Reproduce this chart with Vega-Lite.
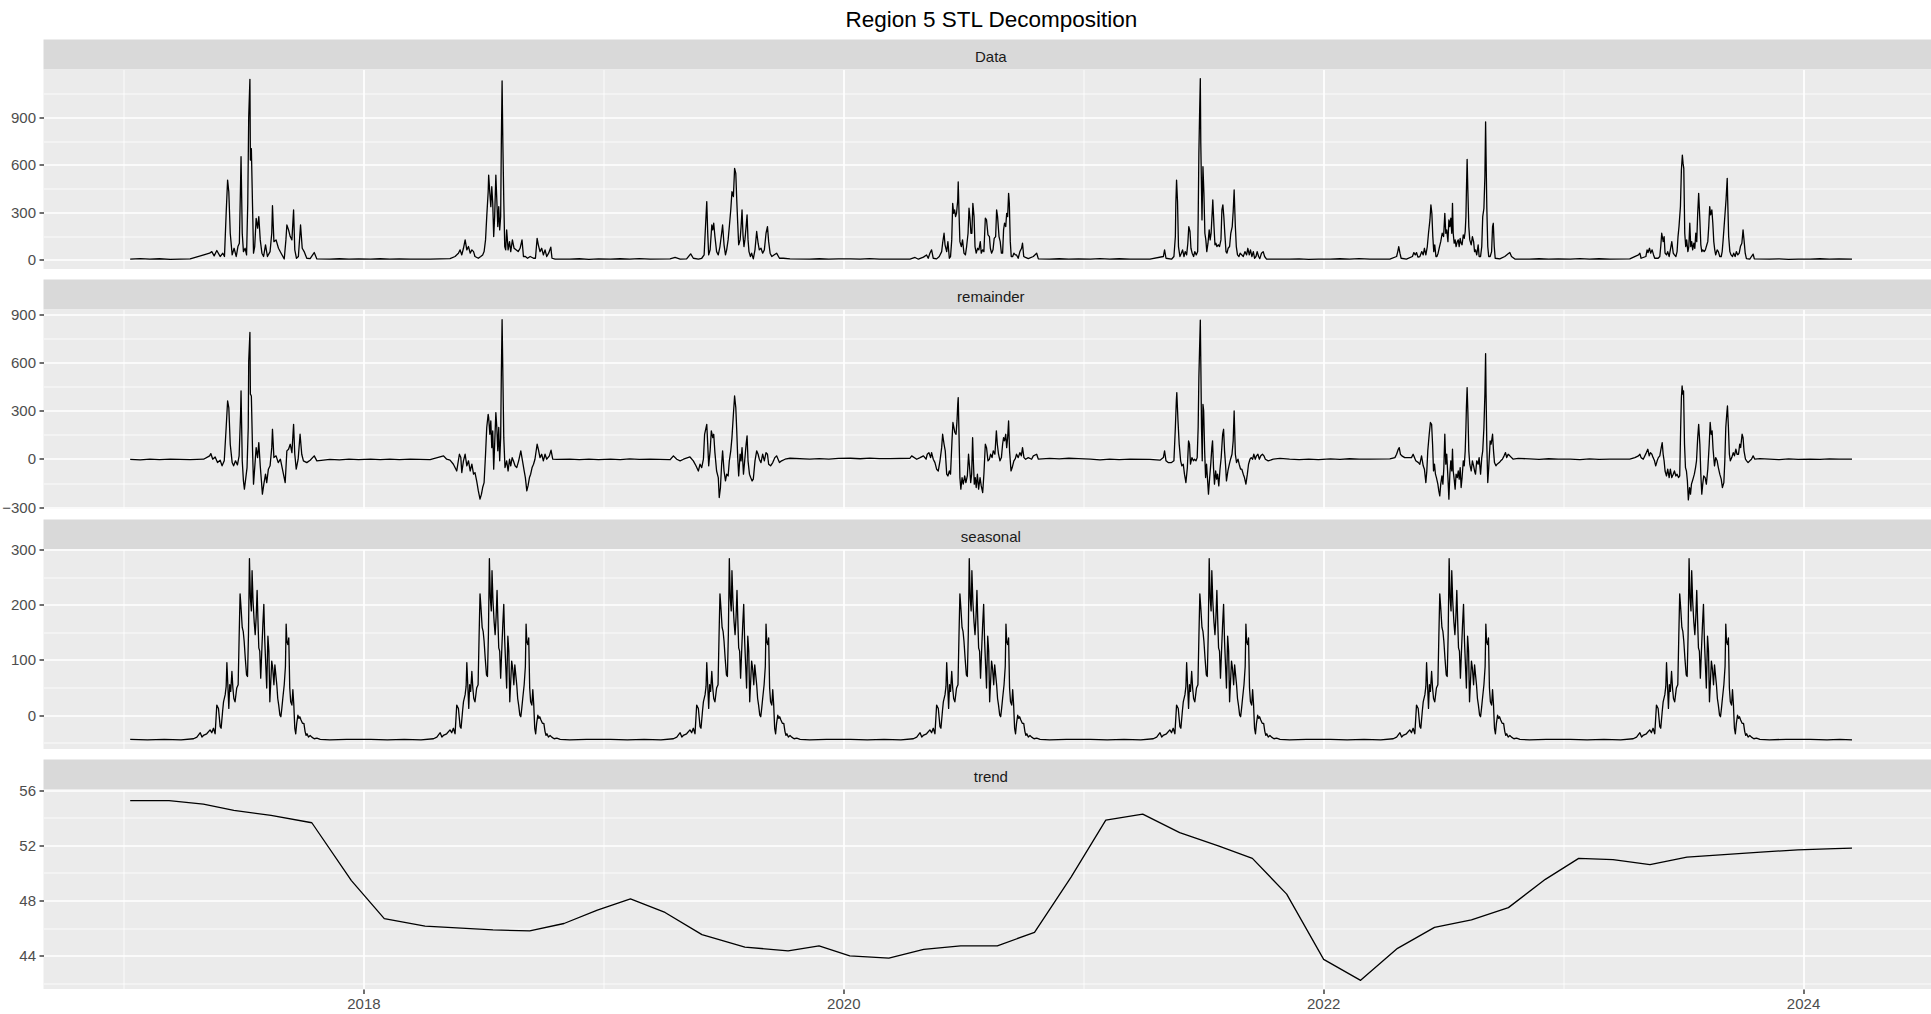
{
"$schema":"https://vega.github.io/schema/vega-lite/v6.json",
"background":"white",
"autosize":{"type":"pad"},
"padding":{"left":1.5,"top":8.5,"right":0,"bottom":4},
"title":{"text":"Region 5 STL Decomposition","anchor":"middle","font":"Liberation Sans","fontSize":22.5,"fontWeight":"normal","color":"#000000","offset":8.5,"dx":25},
"config":{"view":{"stroke":null},
"axis":{"domain":false,"title":null,"labelFont":"Liberation Sans","labelFontSize":15,"labelColor":"#4D4D4D","tickColor":"#333333","tickSize":4.5,"tickWidth":1.4,"gridColor":"#FFFFFF","labelPadding":3.5,"labelFlush":false,"labelOverlap":false,"labelBound":false}},
"datasets":{
"d":[
{"x":2017.028,"v":5},{"x":2017.07,"v":8},{"x":2017.11,"v":4},{"x":2017.15,"v":7},{"x":2017.195,"v":3},{"x":2017.278,"v":6},{"x":2017.359,"v":42},{"x":2017.368,"v":52},{"x":2017.378,"v":25},{"x":2017.389,"v":59},{"x":2017.403,"v":21},{"x":2017.414,"v":42},{"x":2017.421,"v":21},{"x":2017.428,"v":294},{"x":2017.434,"v":504},{"x":2017.439,"v":430},{"x":2017.445,"v":168},{"x":2017.453,"v":31},{"x":2017.461,"v":73},{"x":2017.47,"v":21},{"x":2017.477,"v":84},{"x":2017.483,"v":105},{"x":2017.488,"v":483},{"x":2017.49,"v":651},{"x":2017.495,"v":168},{"x":2017.5,"v":52},{"x":2017.507,"v":73},{"x":2017.513,"v":31},{"x":2017.518,"v":357},{"x":2017.522,"v":903},{"x":2017.527,"v":1140},{"x":2017.529,"v":630},{"x":2017.533,"v":703},{"x":2017.538,"v":336},{"x":2017.542,"v":42},{"x":2017.547,"v":84},{"x":2017.553,"v":262},{"x":2017.559,"v":200},{"x":2017.564,"v":273},{"x":2017.57,"v":126},{"x":2017.577,"v":42},{"x":2017.584,"v":21},{"x":2017.592,"v":95},{"x":2017.6,"v":21},{"x":2017.611,"v":52},{"x":2017.618,"v":168},{"x":2017.621,"v":342},{"x":2017.627,"v":115},{"x":2017.636,"v":126},{"x":2017.646,"v":73},{"x":2017.657,"v":42},{"x":2017.67,"v":5},{"x":2017.677,"v":126},{"x":2017.681,"v":220},{"x":2017.688,"v":189},{"x":2017.695,"v":147},{"x":2017.702,"v":126},{"x":2017.709,"v":315},{"x":2017.714,"v":63},{"x":2017.721,"v":10},{"x":2017.729,"v":21},{"x":2017.738,"v":220},{"x":2017.745,"v":73},{"x":2017.753,"v":52},{"x":2017.764,"v":10},{"x":2017.778,"v":8},{"x":2017.795,"v":46},{"x":2017.806,"v":6},{"x":2017.86,"v":5},{"x":2017.9,"v":7},{"x":2017.94,"v":4},{"x":2017.98,"v":6},
{"x":2018.03,"v":5},{"x":2018.07,"v":7},{"x":2018.11,"v":4},{"x":2018.15,"v":6},{"x":2018.195,"v":4},{"x":2018.278,"v":5},{"x":2018.361,"v":8},{"x":2018.382,"v":21},{"x":2018.396,"v":42},{"x":2018.403,"v":63},{"x":2018.41,"v":31},{"x":2018.417,"v":73},{"x":2018.424,"v":126},{"x":2018.431,"v":63},{"x":2018.438,"v":84},{"x":2018.445,"v":42},{"x":2018.452,"v":63},{"x":2018.459,"v":52},{"x":2018.465,"v":21},{"x":2018.479,"v":10},{"x":2018.489,"v":21},{"x":2018.497,"v":31},{"x":2018.503,"v":52},{"x":2018.509,"v":126},{"x":2018.514,"v":273},{"x":2018.52,"v":430},{"x":2018.522,"v":535},{"x":2018.527,"v":420},{"x":2018.531,"v":336},{"x":2018.535,"v":462},{"x":2018.539,"v":357},{"x":2018.543,"v":147},{"x":2018.547,"v":273},{"x":2018.552,"v":535},{"x":2018.556,"v":378},{"x":2018.56,"v":210},{"x":2018.564,"v":336},{"x":2018.568,"v":189},{"x":2018.572,"v":273},{"x":2018.575,"v":767},{"x":2018.578,"v":1130},{"x":2018.581,"v":756},{"x":2018.585,"v":378},{"x":2018.589,"v":84},{"x":2018.593,"v":63},{"x":2018.597,"v":189},{"x":2018.603,"v":63},{"x":2018.609,"v":115},{"x":2018.614,"v":52},{"x":2018.621,"v":126},{"x":2018.628,"v":73},{"x":2018.636,"v":63},{"x":2018.645,"v":52},{"x":2018.653,"v":73},{"x":2018.661,"v":126},{"x":2018.667,"v":21},{"x":2018.675,"v":21},{"x":2018.684,"v":10},{"x":2018.695,"v":21},{"x":2018.709,"v":10},{"x":2018.717,"v":10},{"x":2018.724,"v":136},{"x":2018.729,"v":95},{"x":2018.736,"v":52},{"x":2018.743,"v":73},{"x":2018.75,"v":31},{"x":2018.757,"v":63},{"x":2018.764,"v":21},{"x":2018.772,"v":42},{"x":2018.781,"v":80},{"x":2018.786,"v":10},{"x":2018.799,"v":4},{"x":2018.86,"v":5},{"x":2018.9,"v":7},{"x":2018.94,"v":3},{"x":2018.98,"v":6},
{"x":2019.03,"v":4},{"x":2019.07,"v":7},{"x":2019.11,"v":5},{"x":2019.15,"v":8},{"x":2019.195,"v":4},{"x":2019.278,"v":6},{"x":2019.299,"v":15},{"x":2019.32,"v":5},{"x":2019.347,"v":6},{"x":2019.364,"v":38},{"x":2019.375,"v":10},{"x":2019.396,"v":4},{"x":2019.41,"v":10},{"x":2019.42,"v":31},{"x":2019.425,"v":189},{"x":2019.431,"v":368},{"x":2019.435,"v":168},{"x":2019.439,"v":31},{"x":2019.445,"v":63},{"x":2019.452,"v":220},{"x":2019.456,"v":189},{"x":2019.46,"v":231},{"x":2019.465,"v":147},{"x":2019.472,"v":52},{"x":2019.479,"v":31},{"x":2019.486,"v":84},{"x":2019.493,"v":168},{"x":2019.497,"v":220},{"x":2019.503,"v":95},{"x":2019.509,"v":31},{"x":2019.514,"v":63},{"x":2019.52,"v":126},{"x":2019.525,"v":210},{"x":2019.531,"v":315},{"x":2019.536,"v":430},{"x":2019.542,"v":399},{"x":2019.547,"v":578},{"x":2019.552,"v":546},{"x":2019.556,"v":378},{"x":2019.56,"v":231},{"x":2019.564,"v":95},{"x":2019.57,"v":126},{"x":2019.574,"v":210},{"x":2019.578,"v":315},{"x":2019.582,"v":158},{"x":2019.586,"v":84},{"x":2019.59,"v":126},{"x":2019.595,"v":210},{"x":2019.599,"v":284},{"x":2019.603,"v":126},{"x":2019.607,"v":52},{"x":2019.613,"v":21},{"x":2019.618,"v":42},{"x":2019.625,"v":6},{"x":2019.632,"v":63},{"x":2019.639,"v":179},{"x":2019.645,"v":105},{"x":2019.65,"v":63},{"x":2019.657,"v":73},{"x":2019.664,"v":42},{"x":2019.671,"v":63},{"x":2019.678,"v":168},{"x":2019.684,"v":210},{"x":2019.689,"v":115},{"x":2019.695,"v":42},{"x":2019.702,"v":21},{"x":2019.711,"v":31},{"x":2019.722,"v":42},{"x":2019.734,"v":10},{"x":2019.75,"v":10},{"x":2019.778,"v":6},{"x":2019.86,"v":4},{"x":2019.9,"v":7},{"x":2019.94,"v":5},{"x":2019.98,"v":6},
{"x":2020.03,"v":6},{"x":2020.07,"v":4},{"x":2020.11,"v":8},{"x":2020.15,"v":5},{"x":2020.195,"v":4},{"x":2020.278,"v":5},{"x":2020.299,"v":15},{"x":2020.313,"v":4},{"x":2020.334,"v":17},{"x":2020.347,"v":31},{"x":2020.354,"v":10},{"x":2020.361,"v":42},{"x":2020.368,"v":63},{"x":2020.375,"v":10},{"x":2020.389,"v":6},{"x":2020.4,"v":21},{"x":2020.41,"v":52},{"x":2020.414,"v":105},{"x":2020.42,"v":168},{"x":2020.424,"v":95},{"x":2020.431,"v":52},{"x":2020.436,"v":115},{"x":2020.442,"v":10},{"x":2020.447,"v":21},{"x":2020.452,"v":126},{"x":2020.456,"v":357},{"x":2020.46,"v":294},{"x":2020.464,"v":315},{"x":2020.468,"v":273},{"x":2020.472,"v":294},{"x":2020.477,"v":378},{"x":2020.479,"v":493},{"x":2020.482,"v":315},{"x":2020.486,"v":115},{"x":2020.492,"v":84},{"x":2020.497,"v":126},{"x":2020.503,"v":42},{"x":2020.509,"v":31},{"x":2020.514,"v":84},{"x":2020.52,"v":168},{"x":2020.524,"v":326},{"x":2020.528,"v":263},{"x":2020.532,"v":168},{"x":2020.536,"v":168},{"x":2020.54,"v":357},{"x":2020.545,"v":273},{"x":2020.549,"v":84},{"x":2020.554,"v":42},{"x":2020.56,"v":73},{"x":2020.565,"v":63},{"x":2020.571,"v":115},{"x":2020.575,"v":42},{"x":2020.581,"v":63},{"x":2020.586,"v":52},{"x":2020.592,"v":263},{"x":2020.597,"v":252},{"x":2020.603,"v":158},{"x":2020.609,"v":147},{"x":2020.613,"v":73},{"x":2020.618,"v":42},{"x":2020.624,"v":63},{"x":2020.629,"v":136},{"x":2020.635,"v":147},{"x":2020.639,"v":315},{"x":2020.643,"v":273},{"x":2020.649,"v":147},{"x":2020.654,"v":115},{"x":2020.659,"v":42},{"x":2020.664,"v":42},{"x":2020.668,"v":189},{"x":2020.672,"v":231},{"x":2020.677,"v":210},{"x":2020.681,"v":294},{"x":2020.685,"v":273},{"x":2020.689,"v":420},{"x":2020.692,"v":357},{"x":2020.696,"v":115},{"x":2020.7,"v":21},{"x":2020.706,"v":21},{"x":2020.711,"v":42},{"x":2020.717,"v":31},{"x":2020.722,"v":31},{"x":2020.729,"v":10},{"x":2020.736,"v":52},{"x":2020.743,"v":73},{"x":2020.747,"v":105},{"x":2020.752,"v":21},{"x":2020.757,"v":17},{"x":2020.771,"v":8},{"x":2020.792,"v":21},{"x":2020.806,"v":42},{"x":2020.813,"v":6},{"x":2020.86,"v":4},{"x":2020.9,"v":7},{"x":2020.94,"v":5},{"x":2020.98,"v":6},
{"x":2021.03,"v":5},{"x":2021.07,"v":8},{"x":2021.11,"v":4},{"x":2021.15,"v":7},{"x":2021.195,"v":4},{"x":2021.278,"v":5},{"x":2021.334,"v":21},{"x":2021.339,"v":63},{"x":2021.345,"v":10},{"x":2021.368,"v":4},{"x":2021.378,"v":21},{"x":2021.384,"v":147},{"x":2021.386,"v":357},{"x":2021.389,"v":504},{"x":2021.393,"v":368},{"x":2021.397,"v":84},{"x":2021.403,"v":21},{"x":2021.409,"v":42},{"x":2021.414,"v":63},{"x":2021.42,"v":21},{"x":2021.425,"v":52},{"x":2021.431,"v":31},{"x":2021.436,"v":105},{"x":2021.44,"v":210},{"x":2021.445,"v":179},{"x":2021.449,"v":73},{"x":2021.454,"v":42},{"x":2021.46,"v":21},{"x":2021.465,"v":52},{"x":2021.471,"v":31},{"x":2021.477,"v":52},{"x":2021.479,"v":252},{"x":2021.482,"v":672},{"x":2021.485,"v":924},{"x":2021.488,"v":1145},{"x":2021.49,"v":735},{"x":2021.495,"v":252},{"x":2021.499,"v":588},{"x":2021.503,"v":420},{"x":2021.507,"v":168},{"x":2021.511,"v":126},{"x":2021.515,"v":52},{"x":2021.52,"v":105},{"x":2021.525,"v":189},{"x":2021.529,"v":126},{"x":2021.533,"v":168},{"x":2021.538,"v":315},{"x":2021.54,"v":378},{"x":2021.545,"v":210},{"x":2021.549,"v":95},{"x":2021.553,"v":105},{"x":2021.557,"v":84},{"x":2021.563,"v":95},{"x":2021.568,"v":84},{"x":2021.574,"v":126},{"x":2021.578,"v":315},{"x":2021.582,"v":347},{"x":2021.586,"v":273},{"x":2021.59,"v":168},{"x":2021.595,"v":52},{"x":2021.599,"v":42},{"x":2021.604,"v":73},{"x":2021.61,"v":84},{"x":2021.615,"v":168},{"x":2021.621,"v":210},{"x":2021.625,"v":305},{"x":2021.629,"v":441},{"x":2021.634,"v":210},{"x":2021.638,"v":84},{"x":2021.643,"v":31},{"x":2021.649,"v":21},{"x":2021.654,"v":42},{"x":2021.661,"v":31},{"x":2021.667,"v":21},{"x":2021.674,"v":52},{"x":2021.681,"v":31},{"x":2021.686,"v":73},{"x":2021.692,"v":31},{"x":2021.697,"v":63},{"x":2021.703,"v":21},{"x":2021.709,"v":52},{"x":2021.714,"v":10},{"x":2021.72,"v":21},{"x":2021.725,"v":52},{"x":2021.731,"v":21},{"x":2021.736,"v":8},{"x":2021.743,"v":42},{"x":2021.75,"v":52},{"x":2021.756,"v":21},{"x":2021.764,"v":5},{"x":2021.778,"v":4},{"x":2021.86,"v":4},{"x":2021.9,"v":6},{"x":2021.94,"v":3},{"x":2021.98,"v":5},
{"x":2022.03,"v":4},{"x":2022.07,"v":7},{"x":2022.11,"v":5},{"x":2022.15,"v":8},{"x":2022.195,"v":4},{"x":2022.278,"v":5},{"x":2022.306,"v":21},{"x":2022.311,"v":52},{"x":2022.315,"v":84},{"x":2022.32,"v":42},{"x":2022.325,"v":10},{"x":2022.347,"v":4},{"x":2022.372,"v":21},{"x":2022.378,"v":46},{"x":2022.384,"v":31},{"x":2022.389,"v":46},{"x":2022.395,"v":17},{"x":2022.403,"v":21},{"x":2022.411,"v":52},{"x":2022.417,"v":31},{"x":2022.422,"v":73},{"x":2022.428,"v":31},{"x":2022.434,"v":84},{"x":2022.439,"v":168},{"x":2022.445,"v":252},{"x":2022.449,"v":347},{"x":2022.453,"v":294},{"x":2022.457,"v":147},{"x":2022.461,"v":52},{"x":2022.465,"v":95},{"x":2022.47,"v":21},{"x":2022.474,"v":21},{"x":2022.479,"v":42},{"x":2022.485,"v":84},{"x":2022.49,"v":115},{"x":2022.496,"v":168},{"x":2022.502,"v":147},{"x":2022.507,"v":294},{"x":2022.511,"v":168},{"x":2022.515,"v":189},{"x":2022.52,"v":115},{"x":2022.524,"v":252},{"x":2022.528,"v":210},{"x":2022.532,"v":263},{"x":2022.536,"v":168},{"x":2022.539,"v":357},{"x":2022.542,"v":168},{"x":2022.546,"v":105},{"x":2022.55,"v":126},{"x":2022.554,"v":84},{"x":2022.559,"v":115},{"x":2022.563,"v":126},{"x":2022.567,"v":84},{"x":2022.571,"v":136},{"x":2022.575,"v":105},{"x":2022.579,"v":95},{"x":2022.584,"v":158},{"x":2022.588,"v":136},{"x":2022.592,"v":179},{"x":2022.595,"v":273},{"x":2022.597,"v":430},{"x":2022.6,"v":635},{"x":2022.603,"v":441},{"x":2022.607,"v":210},{"x":2022.611,"v":126},{"x":2022.617,"v":95},{"x":2022.622,"v":147},{"x":2022.627,"v":115},{"x":2022.631,"v":52},{"x":2022.635,"v":63},{"x":2022.64,"v":31},{"x":2022.646,"v":95},{"x":2022.65,"v":21},{"x":2022.656,"v":21},{"x":2022.661,"v":84},{"x":2022.665,"v":273},{"x":2022.67,"v":326},{"x":2022.674,"v":525},{"x":2022.677,"v":872},{"x":2022.679,"v":651},{"x":2022.682,"v":336},{"x":2022.686,"v":84},{"x":2022.69,"v":21},{"x":2022.696,"v":21},{"x":2022.702,"v":52},{"x":2022.706,"v":210},{"x":2022.709,"v":231},{"x":2022.713,"v":84},{"x":2022.717,"v":10},{"x":2022.736,"v":6},{"x":2022.757,"v":21},{"x":2022.771,"v":38},{"x":2022.778,"v":46},{"x":2022.785,"v":21},{"x":2022.799,"v":5},{"x":2022.86,"v":4},{"x":2022.9,"v":7},{"x":2022.94,"v":4},{"x":2022.98,"v":6},
{"x":2023.03,"v":5},{"x":2023.07,"v":8},{"x":2023.11,"v":4},{"x":2023.15,"v":7},{"x":2023.195,"v":4},{"x":2023.278,"v":6},{"x":2023.314,"v":31},{"x":2023.32,"v":42},{"x":2023.325,"v":10},{"x":2023.345,"v":21},{"x":2023.35,"v":63},{"x":2023.354,"v":46},{"x":2023.36,"v":73},{"x":2023.365,"v":42},{"x":2023.371,"v":63},{"x":2023.377,"v":31},{"x":2023.382,"v":10},{"x":2023.396,"v":10},{"x":2023.403,"v":21},{"x":2023.407,"v":84},{"x":2023.411,"v":168},{"x":2023.417,"v":115},{"x":2023.421,"v":147},{"x":2023.425,"v":42},{"x":2023.431,"v":31},{"x":2023.436,"v":52},{"x":2023.442,"v":21},{"x":2023.447,"v":63},{"x":2023.453,"v":115},{"x":2023.459,"v":42},{"x":2023.464,"v":31},{"x":2023.47,"v":21},{"x":2023.475,"v":52},{"x":2023.479,"v":147},{"x":2023.483,"v":210},{"x":2023.489,"v":336},{"x":2023.493,"v":567},{"x":2023.497,"v":662},{"x":2023.5,"v":609},{"x":2023.503,"v":578},{"x":2023.507,"v":168},{"x":2023.511,"v":84},{"x":2023.515,"v":126},{"x":2023.52,"v":52},{"x":2023.524,"v":84},{"x":2023.528,"v":231},{"x":2023.532,"v":84},{"x":2023.536,"v":115},{"x":2023.54,"v":63},{"x":2023.545,"v":105},{"x":2023.549,"v":73},{"x":2023.553,"v":168},{"x":2023.557,"v":115},{"x":2023.561,"v":294},{"x":2023.565,"v":420},{"x":2023.57,"v":252},{"x":2023.574,"v":95},{"x":2023.578,"v":52},{"x":2023.582,"v":63},{"x":2023.588,"v":52},{"x":2023.593,"v":63},{"x":2023.599,"v":95},{"x":2023.603,"v":115},{"x":2023.607,"v":210},{"x":2023.611,"v":336},{"x":2023.615,"v":284},{"x":2023.62,"v":315},{"x":2023.624,"v":231},{"x":2023.628,"v":115},{"x":2023.632,"v":63},{"x":2023.636,"v":31},{"x":2023.642,"v":63},{"x":2023.647,"v":52},{"x":2023.653,"v":21},{"x":2023.659,"v":21},{"x":2023.663,"v":52},{"x":2023.667,"v":126},{"x":2023.671,"v":210},{"x":2023.675,"v":294},{"x":2023.679,"v":378},{"x":2023.684,"v":515},{"x":2023.686,"v":378},{"x":2023.69,"v":147},{"x":2023.695,"v":52},{"x":2023.7,"v":31},{"x":2023.706,"v":21},{"x":2023.711,"v":42},{"x":2023.717,"v":21},{"x":2023.722,"v":52},{"x":2023.728,"v":31},{"x":2023.734,"v":42},{"x":2023.739,"v":84},{"x":2023.745,"v":105},{"x":2023.75,"v":189},{"x":2023.754,"v":126},{"x":2023.759,"v":42},{"x":2023.764,"v":8},{"x":2023.778,"v":4},{"x":2023.785,"v":21},{"x":2023.792,"v":36},{"x":2023.797,"v":6},{"x":2023.86,"v":4},{"x":2023.9,"v":6},{"x":2023.94,"v":3},{"x":2023.98,"v":5},
{"x":2024.03,"v":5},{"x":2024.07,"v":7},{"x":2024.11,"v":4},{"x":2024.15,"v":6},{"x":2024.204,"v":5}
],
"r":[
{"x":2017.028,"v":-3},{"x":2017.07,"v":-6},{"x":2017.11,"v":-2},{"x":2017.15,"v":-5},{"x":2017.195,"v":-2},{"x":2017.278,"v":-4},{"x":2017.334,"v":-2},{"x":2017.359,"v":19},{"x":2017.364,"v":33},{"x":2017.372,"v":-2},{"x":2017.382,"v":12},{"x":2017.392,"v":-23},{"x":2017.403,"v":-8},{"x":2017.411,"v":-43},{"x":2017.42,"v":-12},{"x":2017.428,"v":195},{"x":2017.434,"v":360},{"x":2017.439,"v":319},{"x":2017.445,"v":91},{"x":2017.453,"v":-23},{"x":2017.459,"v":-43},{"x":2017.467,"v":-12},{"x":2017.475,"v":-37},{"x":2017.482,"v":19},{"x":2017.488,"v":277},{"x":2017.49,"v":422},{"x":2017.495,"v":-12},{"x":2017.5,"v":-137},{"x":2017.504,"v":-188},{"x":2017.51,"v":-116},{"x":2017.515,"v":-54},{"x":2017.52,"v":195},{"x":2017.522,"v":609},{"x":2017.527,"v":785},{"x":2017.529,"v":402},{"x":2017.533,"v":391},{"x":2017.538,"v":50},{"x":2017.542,"v":-157},{"x":2017.547,"v":-54},{"x":2017.553,"v":70},{"x":2017.559,"v":8},{"x":2017.564,"v":101},{"x":2017.57,"v":-43},{"x":2017.575,"v":-137},{"x":2017.579,"v":-219},{"x":2017.585,"v":-157},{"x":2017.592,"v":-95},{"x":2017.597,"v":-147},{"x":2017.604,"v":-64},{"x":2017.611,"v":-43},{"x":2017.618,"v":70},{"x":2017.621,"v":184},{"x":2017.627,"v":8},{"x":2017.636,"v":19},{"x":2017.645,"v":-23},{"x":2017.654,"v":-2},{"x":2017.664,"v":-75},{"x":2017.674,"v":-147},{"x":2017.681,"v":50},{"x":2017.688,"v":60},{"x":2017.695,"v":91},{"x":2017.702,"v":39},{"x":2017.709,"v":215},{"x":2017.714,"v":29},{"x":2017.72,"v":-64},{"x":2017.728,"v":-2},{"x":2017.736,"v":153},{"x":2017.743,"v":29},{"x":2017.75,"v":-12},{"x":2017.764,"v":-23},{"x":2017.778,"v":-8},{"x":2017.795,"v":19},{"x":2017.806,"v":-12},{"x":2017.86,"v":-3},{"x":2017.9,"v":-6},{"x":2017.94,"v":-2},{"x":2017.98,"v":-4},
{"x":2018.03,"v":-2},{"x":2018.07,"v":-5},{"x":2018.11,"v":-1},{"x":2018.15,"v":-4},{"x":2018.195,"v":-2},{"x":2018.278,"v":-4},{"x":2018.334,"v":19},{"x":2018.347,"v":-2},{"x":2018.361,"v":-8},{"x":2018.375,"v":-33},{"x":2018.389,"v":-75},{"x":2018.4,"v":29},{"x":2018.406,"v":8},{"x":2018.41,"v":-85},{"x":2018.417,"v":-12},{"x":2018.424,"v":29},{"x":2018.431,"v":-43},{"x":2018.438,"v":-12},{"x":2018.445,"v":-75},{"x":2018.452,"v":-33},{"x":2018.459,"v":-95},{"x":2018.465,"v":-85},{"x":2018.472,"v":-137},{"x":2018.479,"v":-199},{"x":2018.486,"v":-250},{"x":2018.492,"v":-219},{"x":2018.497,"v":-178},{"x":2018.503,"v":-147},{"x":2018.509,"v":29},{"x":2018.514,"v":195},{"x":2018.52,"v":277},{"x":2018.522,"v":257},{"x":2018.527,"v":153},{"x":2018.531,"v":236},{"x":2018.535,"v":70},{"x":2018.539,"v":174},{"x":2018.543,"v":-64},{"x":2018.547,"v":91},{"x":2018.552,"v":288},{"x":2018.556,"v":195},{"x":2018.56,"v":50},{"x":2018.564,"v":195},{"x":2018.568,"v":-12},{"x":2018.572,"v":132},{"x":2018.575,"v":546},{"x":2018.578,"v":865},{"x":2018.581,"v":546},{"x":2018.585,"v":132},{"x":2018.59,"v":-54},{"x":2018.597,"v":-12},{"x":2018.603,"v":-75},{"x":2018.609,"v":-2},{"x":2018.614,"v":-43},{"x":2018.62,"v":8},{"x":2018.625,"v":-12},{"x":2018.632,"v":-43},{"x":2018.639,"v":-54},{"x":2018.647,"v":-12},{"x":2018.656,"v":50},{"x":2018.663,"v":-12},{"x":2018.67,"v":-75},{"x":2018.675,"v":-116},{"x":2018.681,"v":-199},{"x":2018.686,"v":-168},{"x":2018.692,"v":-116},{"x":2018.697,"v":-95},{"x":2018.703,"v":-54},{"x":2018.709,"v":-33},{"x":2018.715,"v":-2},{"x":2018.724,"v":91},{"x":2018.729,"v":60},{"x":2018.736,"v":8},{"x":2018.743,"v":29},{"x":2018.75,"v":-12},{"x":2018.757,"v":29},{"x":2018.764,"v":-2},{"x":2018.775,"v":19},{"x":2018.782,"v":54},{"x":2018.789,"v":-2},{"x":2018.806,"v":-3},{"x":2018.86,"v":-2},{"x":2018.9,"v":-5},{"x":2018.94,"v":-1},{"x":2018.98,"v":-4},
{"x":2019.03,"v":-1},{"x":2019.07,"v":-4},{"x":2019.11,"v":0},{"x":2019.15,"v":-3},{"x":2019.195,"v":-2},{"x":2019.278,"v":-5},{"x":2019.292,"v":19},{"x":2019.306,"v":-2},{"x":2019.32,"v":-12},{"x":2019.334,"v":-2},{"x":2019.361,"v":12},{"x":2019.375,"v":-12},{"x":2019.386,"v":-43},{"x":2019.396,"v":-75},{"x":2019.403,"v":-33},{"x":2019.41,"v":-54},{"x":2019.417,"v":-2},{"x":2019.422,"v":153},{"x":2019.431,"v":215},{"x":2019.435,"v":91},{"x":2019.439,"v":-43},{"x":2019.445,"v":50},{"x":2019.45,"v":174},{"x":2019.456,"v":132},{"x":2019.46,"v":153},{"x":2019.465,"v":39},{"x":2019.472,"v":-75},{"x":2019.479,"v":-116},{"x":2019.483,"v":-240},{"x":2019.488,"v":-178},{"x":2019.493,"v":-33},{"x":2019.497,"v":50},{"x":2019.503,"v":-75},{"x":2019.509,"v":-137},{"x":2019.514,"v":-95},{"x":2019.52,"v":-106},{"x":2019.525,"v":-12},{"x":2019.531,"v":50},{"x":2019.536,"v":132},{"x":2019.542,"v":277},{"x":2019.547,"v":391},{"x":2019.552,"v":319},{"x":2019.556,"v":174},{"x":2019.56,"v":8},{"x":2019.564,"v":-106},{"x":2019.57,"v":29},{"x":2019.574,"v":-12},{"x":2019.578,"v":70},{"x":2019.584,"v":-95},{"x":2019.589,"v":-12},{"x":2019.595,"v":91},{"x":2019.599,"v":143},{"x":2019.603,"v":-12},{"x":2019.609,"v":-95},{"x":2019.614,"v":-116},{"x":2019.62,"v":-137},{"x":2019.625,"v":-126},{"x":2019.632,"v":-12},{"x":2019.639,"v":50},{"x":2019.645,"v":29},{"x":2019.65,"v":-2},{"x":2019.657,"v":-23},{"x":2019.664,"v":29},{"x":2019.671,"v":-12},{"x":2019.678,"v":39},{"x":2019.684,"v":29},{"x":2019.689,"v":-33},{"x":2019.697,"v":-43},{"x":2019.706,"v":-23},{"x":2019.715,"v":8},{"x":2019.722,"v":19},{"x":2019.734,"v":-23},{"x":2019.743,"v":-12},{"x":2019.757,"v":-2},{"x":2019.778,"v":4},{"x":2019.86,"v":-2},{"x":2019.9,"v":2},{"x":2019.94,"v":-1},{"x":2019.98,"v":3},
{"x":2020.03,"v":4},{"x":2020.07,"v":1},{"x":2020.11,"v":5},{"x":2020.15,"v":2},{"x":2020.195,"v":2},{"x":2020.278,"v":4},{"x":2020.285,"v":19},{"x":2020.306,"v":-2},{"x":2020.32,"v":8},{"x":2020.334,"v":19},{"x":2020.345,"v":-2},{"x":2020.35,"v":29},{"x":2020.357,"v":39},{"x":2020.364,"v":8},{"x":2020.368,"v":39},{"x":2020.375,"v":-2},{"x":2020.382,"v":-23},{"x":2020.389,"v":-64},{"x":2020.396,"v":-75},{"x":2020.403,"v":-12},{"x":2020.41,"v":70},{"x":2020.414,"v":153},{"x":2020.42,"v":91},{"x":2020.425,"v":50},{"x":2020.431,"v":-95},{"x":2020.436,"v":-106},{"x":2020.442,"v":-75},{"x":2020.447,"v":-95},{"x":2020.453,"v":112},{"x":2020.457,"v":226},{"x":2020.461,"v":195},{"x":2020.465,"v":164},{"x":2020.47,"v":153},{"x":2020.474,"v":236},{"x":2020.477,"v":339},{"x":2020.479,"v":381},{"x":2020.482,"v":174},{"x":2020.486,"v":-116},{"x":2020.49,"v":-188},{"x":2020.495,"v":-116},{"x":2020.5,"v":-157},{"x":2020.506,"v":-106},{"x":2020.511,"v":-147},{"x":2020.517,"v":-106},{"x":2020.522,"v":29},{"x":2020.527,"v":-64},{"x":2020.531,"v":-147},{"x":2020.535,"v":-95},{"x":2020.539,"v":132},{"x":2020.542,"v":-12},{"x":2020.546,"v":-157},{"x":2020.55,"v":-116},{"x":2020.554,"v":-178},{"x":2020.559,"v":-95},{"x":2020.564,"v":-188},{"x":2020.57,"v":-116},{"x":2020.575,"v":-168},{"x":2020.581,"v":-209},{"x":2020.586,"v":-95},{"x":2020.592,"v":91},{"x":2020.597,"v":70},{"x":2020.603,"v":-12},{"x":2020.609,"v":-2},{"x":2020.614,"v":29},{"x":2020.62,"v":8},{"x":2020.625,"v":50},{"x":2020.632,"v":29},{"x":2020.638,"v":174},{"x":2020.642,"v":91},{"x":2020.647,"v":29},{"x":2020.653,"v":-12},{"x":2020.659,"v":8},{"x":2020.664,"v":91},{"x":2020.668,"v":132},{"x":2020.672,"v":112},{"x":2020.677,"v":153},{"x":2020.681,"v":70},{"x":2020.685,"v":132},{"x":2020.689,"v":236},{"x":2020.693,"v":50},{"x":2020.699,"v":-75},{"x":2020.704,"v":-54},{"x":2020.711,"v":-12},{"x":2020.717,"v":2},{"x":2020.722,"v":29},{"x":2020.729,"v":8},{"x":2020.736,"v":39},{"x":2020.742,"v":19},{"x":2020.747,"v":70},{"x":2020.753,"v":8},{"x":2020.76,"v":-2},{"x":2020.771,"v":8},{"x":2020.785,"v":-2},{"x":2020.792,"v":19},{"x":2020.806,"v":29},{"x":2020.813,"v":-2},{"x":2020.86,"v":3},{"x":2020.9,"v":0},{"x":2020.94,"v":4},{"x":2020.98,"v":2},
{"x":2021.03,"v":-2},{"x":2021.07,"v":-6},{"x":2021.11,"v":-1},{"x":2021.15,"v":-5},{"x":2021.195,"v":-2},{"x":2021.278,"v":-3},{"x":2021.32,"v":-8},{"x":2021.334,"v":8},{"x":2021.339,"v":50},{"x":2021.345,"v":-12},{"x":2021.354,"v":-23},{"x":2021.368,"v":-23},{"x":2021.378,"v":-12},{"x":2021.384,"v":195},{"x":2021.388,"v":360},{"x":2021.39,"v":412},{"x":2021.395,"v":236},{"x":2021.4,"v":91},{"x":2021.406,"v":-12},{"x":2021.411,"v":-43},{"x":2021.417,"v":-33},{"x":2021.422,"v":-95},{"x":2021.428,"v":-147},{"x":2021.434,"v":-54},{"x":2021.439,"v":112},{"x":2021.443,"v":91},{"x":2021.447,"v":-33},{"x":2021.453,"v":8},{"x":2021.459,"v":-12},{"x":2021.464,"v":-2},{"x":2021.47,"v":-12},{"x":2021.475,"v":8},{"x":2021.479,"v":195},{"x":2021.482,"v":505},{"x":2021.485,"v":691},{"x":2021.488,"v":862},{"x":2021.49,"v":609},{"x":2021.493,"v":195},{"x":2021.496,"v":-12},{"x":2021.499,"v":339},{"x":2021.502,"v":298},{"x":2021.506,"v":50},{"x":2021.51,"v":-116},{"x":2021.514,"v":-33},{"x":2021.518,"v":-126},{"x":2021.522,"v":-219},{"x":2021.527,"v":-116},{"x":2021.532,"v":-23},{"x":2021.536,"v":70},{"x":2021.539,"v":112},{"x":2021.543,"v":-54},{"x":2021.547,"v":-157},{"x":2021.552,"v":-75},{"x":2021.556,"v":-126},{"x":2021.56,"v":-95},{"x":2021.565,"v":-168},{"x":2021.57,"v":-64},{"x":2021.575,"v":8},{"x":2021.581,"v":153},{"x":2021.585,"v":184},{"x":2021.589,"v":50},{"x":2021.593,"v":-33},{"x":2021.597,"v":-137},{"x":2021.603,"v":-75},{"x":2021.609,"v":-33},{"x":2021.614,"v":-2},{"x":2021.62,"v":29},{"x":2021.625,"v":112},{"x":2021.629,"v":298},{"x":2021.634,"v":29},{"x":2021.639,"v":-23},{"x":2021.645,"v":-2},{"x":2021.65,"v":-33},{"x":2021.656,"v":-64},{"x":2021.661,"v":-64},{"x":2021.667,"v":-95},{"x":2021.672,"v":-116},{"x":2021.678,"v":-157},{"x":2021.684,"v":-95},{"x":2021.689,"v":-33},{"x":2021.695,"v":-2},{"x":2021.7,"v":8},{"x":2021.706,"v":-2},{"x":2021.711,"v":29},{"x":2021.717,"v":-2},{"x":2021.722,"v":19},{"x":2021.728,"v":29},{"x":2021.734,"v":-2},{"x":2021.74,"v":19},{"x":2021.747,"v":29},{"x":2021.753,"v":19},{"x":2021.759,"v":-2},{"x":2021.771,"v":-12},{"x":2021.792,"v":-2},{"x":2021.82,"v":3},{"x":2021.86,"v":-2},{"x":2021.9,"v":-5},{"x":2021.94,"v":-1},{"x":2021.98,"v":-4},
{"x":2022.03,"v":0},{"x":2022.07,"v":-3},{"x":2022.11,"v":1},{"x":2022.15,"v":-2},{"x":2022.195,"v":-2},{"x":2022.278,"v":0},{"x":2022.299,"v":8},{"x":2022.306,"v":29},{"x":2022.313,"v":60},{"x":2022.317,"v":70},{"x":2022.322,"v":29},{"x":2022.328,"v":19},{"x":2022.34,"v":8},{"x":2022.354,"v":8},{"x":2022.368,"v":8},{"x":2022.375,"v":29},{"x":2022.386,"v":-12},{"x":2022.397,"v":-23},{"x":2022.403,"v":-33},{"x":2022.41,"v":19},{"x":2022.417,"v":-43},{"x":2022.422,"v":-64},{"x":2022.428,"v":-147},{"x":2022.432,"v":-75},{"x":2022.436,"v":50},{"x":2022.442,"v":153},{"x":2022.447,"v":226},{"x":2022.452,"v":215},{"x":2022.456,"v":91},{"x":2022.46,"v":-75},{"x":2022.464,"v":-33},{"x":2022.468,"v":-95},{"x":2022.472,"v":-116},{"x":2022.478,"v":-157},{"x":2022.482,"v":-199},{"x":2022.486,"v":-230},{"x":2022.49,"v":-157},{"x":2022.495,"v":-106},{"x":2022.499,"v":-157},{"x":2022.503,"v":-54},{"x":2022.507,"v":153},{"x":2022.511,"v":-33},{"x":2022.515,"v":29},{"x":2022.52,"v":-116},{"x":2022.524,"v":-250},{"x":2022.528,"v":-95},{"x":2022.532,"v":-12},{"x":2022.536,"v":-75},{"x":2022.539,"v":60},{"x":2022.542,"v":-75},{"x":2022.546,"v":-126},{"x":2022.55,"v":-188},{"x":2022.554,"v":-95},{"x":2022.559,"v":-116},{"x":2022.563,"v":-75},{"x":2022.567,"v":-126},{"x":2022.571,"v":-54},{"x":2022.575,"v":-178},{"x":2022.579,"v":-116},{"x":2022.584,"v":-12},{"x":2022.588,"v":-43},{"x":2022.592,"v":50},{"x":2022.595,"v":195},{"x":2022.597,"v":319},{"x":2022.6,"v":443},{"x":2022.603,"v":298},{"x":2022.607,"v":50},{"x":2022.611,"v":-33},{"x":2022.617,"v":-75},{"x":2022.622,"v":-12},{"x":2022.627,"v":-43},{"x":2022.631,"v":-75},{"x":2022.635,"v":-95},{"x":2022.64,"v":-12},{"x":2022.646,"v":-33},{"x":2022.65,"v":8},{"x":2022.656,"v":-95},{"x":2022.661,"v":8},{"x":2022.665,"v":50},{"x":2022.67,"v":195},{"x":2022.674,"v":402},{"x":2022.677,"v":654},{"x":2022.679,"v":402},{"x":2022.682,"v":91},{"x":2022.686,"v":-147},{"x":2022.69,"v":-54},{"x":2022.696,"v":112},{"x":2022.7,"v":91},{"x":2022.706,"v":153},{"x":2022.71,"v":50},{"x":2022.714,"v":-23},{"x":2022.72,"v":-43},{"x":2022.725,"v":-33},{"x":2022.734,"v":-23},{"x":2022.74,"v":-12},{"x":2022.747,"v":-2},{"x":2022.754,"v":19},{"x":2022.76,"v":39},{"x":2022.765,"v":8},{"x":2022.771,"v":29},{"x":2022.778,"v":19},{"x":2022.792,"v":-2},{"x":2022.813,"v":3},{"x":2022.86,"v":0},{"x":2022.9,"v":-3},{"x":2022.94,"v":1},{"x":2022.98,"v":-2},
{"x":2023.03,"v":-1},{"x":2023.07,"v":-4},{"x":2023.11,"v":0},{"x":2023.15,"v":-3},{"x":2023.195,"v":-2},{"x":2023.278,"v":-2},{"x":2023.299,"v":8},{"x":2023.314,"v":19},{"x":2023.32,"v":29},{"x":2023.325,"v":8},{"x":2023.334,"v":-2},{"x":2023.347,"v":39},{"x":2023.353,"v":60},{"x":2023.359,"v":19},{"x":2023.364,"v":39},{"x":2023.37,"v":29},{"x":2023.375,"v":8},{"x":2023.381,"v":-12},{"x":2023.386,"v":-43},{"x":2023.392,"v":-12},{"x":2023.397,"v":8},{"x":2023.403,"v":19},{"x":2023.409,"v":70},{"x":2023.413,"v":101},{"x":2023.417,"v":29},{"x":2023.421,"v":-12},{"x":2023.425,"v":-75},{"x":2023.431,"v":-106},{"x":2023.436,"v":-64},{"x":2023.442,"v":-116},{"x":2023.447,"v":-64},{"x":2023.453,"v":-116},{"x":2023.459,"v":-95},{"x":2023.464,"v":-75},{"x":2023.47,"v":-106},{"x":2023.475,"v":-95},{"x":2023.481,"v":-116},{"x":2023.486,"v":-106},{"x":2023.49,"v":195},{"x":2023.493,"v":381},{"x":2023.496,"v":453},{"x":2023.499,"v":402},{"x":2023.502,"v":422},{"x":2023.506,"v":91},{"x":2023.51,"v":-54},{"x":2023.514,"v":-75},{"x":2023.518,"v":-137},{"x":2023.522,"v":-255},{"x":2023.527,"v":-178},{"x":2023.531,"v":-219},{"x":2023.535,"v":-157},{"x":2023.539,"v":-137},{"x":2023.543,"v":-116},{"x":2023.547,"v":-95},{"x":2023.552,"v":-54},{"x":2023.556,"v":-12},{"x":2023.561,"v":132},{"x":2023.565,"v":215},{"x":2023.57,"v":91},{"x":2023.574,"v":-95},{"x":2023.578,"v":-219},{"x":2023.582,"v":-157},{"x":2023.586,"v":-106},{"x":2023.592,"v":-116},{"x":2023.597,"v":-157},{"x":2023.603,"v":-64},{"x":2023.609,"v":91},{"x":2023.613,"v":226},{"x":2023.617,"v":153},{"x":2023.621,"v":174},{"x":2023.625,"v":60},{"x":2023.631,"v":-43},{"x":2023.636,"v":8},{"x":2023.642,"v":-12},{"x":2023.647,"v":-54},{"x":2023.653,"v":-95},{"x":2023.659,"v":-126},{"x":2023.664,"v":-178},{"x":2023.67,"v":-147},{"x":2023.674,"v":-12},{"x":2023.678,"v":195},{"x":2023.682,"v":277},{"x":2023.685,"v":329},{"x":2023.689,"v":195},{"x":2023.693,"v":29},{"x":2023.697,"v":-12},{"x":2023.703,"v":8},{"x":2023.709,"v":39},{"x":2023.714,"v":19},{"x":2023.72,"v":60},{"x":2023.725,"v":29},{"x":2023.731,"v":29},{"x":2023.736,"v":91},{"x":2023.74,"v":70},{"x":2023.746,"v":153},{"x":2023.75,"v":132},{"x":2023.754,"v":50},{"x":2023.76,"v":-2},{"x":2023.765,"v":-12},{"x":2023.771,"v":-23},{"x":2023.778,"v":-12},{"x":2023.785,"v":-2},{"x":2023.792,"v":19},{"x":2023.799,"v":-2},{"x":2023.82,"v":2},{"x":2023.86,"v":-1},{"x":2023.9,"v":-4},{"x":2023.94,"v":0},{"x":2023.98,"v":-3},
{"x":2024.03,"v":-1},{"x":2024.07,"v":-3},{"x":2024.11,"v":0},{"x":2024.15,"v":-2},{"x":2024.204,"v":-1}
],
"s":[
{"x":2017.028,"v":-44},{"x":2017.1,"v":-45},{"x":2017.17,"v":-44},{"x":2017.24,"v":-45},{"x":2017.292,"v":-43},{"x":2017.306,"v":-40},{"x":2017.32,"v":-32},{"x":2017.327,"v":-40},{"x":2017.333,"v":-37},{"x":2017.347,"v":-34},{"x":2017.361,"v":-27},{"x":2017.368,"v":-32},{"x":2017.375,"v":-24},{"x":2017.382,"v":-34},{"x":2017.389,"v":18},{"x":2017.396,"v":12},{"x":2017.403,"v":-21},{"x":2017.407,"v":-24},{"x":2017.413,"v":6},{"x":2017.417,"v":24},{"x":2017.424,"v":37},{"x":2017.428,"v":52},{"x":2017.431,"v":95},{"x":2017.435,"v":55},{"x":2017.439,"v":12},{"x":2017.443,"v":55},{"x":2017.447,"v":43},{"x":2017.452,"v":79},{"x":2017.456,"v":49},{"x":2017.46,"v":30},{"x":2017.465,"v":24},{"x":2017.472,"v":49},{"x":2017.478,"v":55},{"x":2017.482,"v":140},{"x":2017.486,"v":220},{"x":2017.49,"v":195},{"x":2017.495,"v":159},{"x":2017.499,"v":152},{"x":2017.503,"v":134},{"x":2017.508,"v":101},{"x":2017.513,"v":73},{"x":2017.517,"v":70},{"x":2017.521,"v":146},{"x":2017.525,"v":284},{"x":2017.529,"v":213},{"x":2017.533,"v":189},{"x":2017.536,"v":262},{"x":2017.54,"v":207},{"x":2017.545,"v":168},{"x":2017.549,"v":146},{"x":2017.553,"v":177},{"x":2017.557,"v":226},{"x":2017.561,"v":165},{"x":2017.564,"v":122},{"x":2017.568,"v":116},{"x":2017.572,"v":67},{"x":2017.577,"v":122},{"x":2017.581,"v":165},{"x":2017.585,"v":201},{"x":2017.589,"v":134},{"x":2017.593,"v":91},{"x":2017.597,"v":49},{"x":2017.602,"v":143},{"x":2017.606,"v":116},{"x":2017.61,"v":24},{"x":2017.614,"v":61},{"x":2017.618,"v":98},{"x":2017.622,"v":85},{"x":2017.627,"v":55},{"x":2017.631,"v":91},{"x":2017.635,"v":73},{"x":2017.639,"v":55},{"x":2017.643,"v":30},{"x":2017.647,"v":18},{"x":2017.652,"v":0},{"x":2017.656,"v":-3},{"x":2017.66,"v":12},{"x":2017.664,"v":30},{"x":2017.67,"v":55},{"x":2017.675,"v":88},{"x":2017.678,"v":165},{"x":2017.681,"v":134},{"x":2017.685,"v":128},{"x":2017.689,"v":140},{"x":2017.693,"v":49},{"x":2017.697,"v":24},{"x":2017.702,"v":18},{"x":2017.706,"v":46},{"x":2017.71,"v":18},{"x":2017.714,"v":-24},{"x":2017.718,"v":-34},{"x":2017.722,"v":-15},{"x":2017.727,"v":0},{"x":2017.731,"v":-6},{"x":2017.735,"v":-3},{"x":2017.74,"v":-9},{"x":2017.746,"v":-15},{"x":2017.752,"v":-15},{"x":2017.757,"v":-30},{"x":2017.761,"v":-37},{"x":2017.765,"v":-34},{"x":2017.771,"v":-40},{"x":2017.778,"v":-37},{"x":2017.785,"v":-40},{"x":2017.795,"v":-43},{"x":2017.806,"v":-42},{"x":2017.82,"v":-44},{"x":2017.86,"v":-45},{"x":2017.93,"v":-44},
{"x":2018.03,"v":-44},{"x":2018.1,"v":-45},{"x":2018.17,"v":-44},{"x":2018.24,"v":-45},{"x":2018.292,"v":-43},{"x":2018.306,"v":-40},{"x":2018.32,"v":-32},{"x":2018.327,"v":-40},{"x":2018.333,"v":-37},{"x":2018.347,"v":-34},{"x":2018.361,"v":-27},{"x":2018.368,"v":-32},{"x":2018.375,"v":-24},{"x":2018.382,"v":-34},{"x":2018.389,"v":18},{"x":2018.396,"v":12},{"x":2018.403,"v":-21},{"x":2018.407,"v":-24},{"x":2018.413,"v":6},{"x":2018.417,"v":24},{"x":2018.424,"v":37},{"x":2018.428,"v":52},{"x":2018.431,"v":95},{"x":2018.435,"v":55},{"x":2018.439,"v":12},{"x":2018.443,"v":55},{"x":2018.447,"v":43},{"x":2018.452,"v":79},{"x":2018.456,"v":49},{"x":2018.46,"v":30},{"x":2018.465,"v":24},{"x":2018.472,"v":49},{"x":2018.478,"v":55},{"x":2018.482,"v":140},{"x":2018.486,"v":220},{"x":2018.49,"v":195},{"x":2018.495,"v":159},{"x":2018.499,"v":152},{"x":2018.503,"v":134},{"x":2018.508,"v":101},{"x":2018.513,"v":73},{"x":2018.517,"v":70},{"x":2018.521,"v":146},{"x":2018.525,"v":284},{"x":2018.529,"v":213},{"x":2018.533,"v":189},{"x":2018.536,"v":262},{"x":2018.54,"v":207},{"x":2018.545,"v":168},{"x":2018.549,"v":146},{"x":2018.553,"v":177},{"x":2018.557,"v":226},{"x":2018.561,"v":165},{"x":2018.564,"v":122},{"x":2018.568,"v":116},{"x":2018.572,"v":67},{"x":2018.577,"v":122},{"x":2018.581,"v":165},{"x":2018.585,"v":201},{"x":2018.589,"v":134},{"x":2018.593,"v":91},{"x":2018.597,"v":49},{"x":2018.602,"v":143},{"x":2018.606,"v":116},{"x":2018.61,"v":24},{"x":2018.614,"v":61},{"x":2018.618,"v":98},{"x":2018.622,"v":85},{"x":2018.627,"v":55},{"x":2018.631,"v":91},{"x":2018.635,"v":73},{"x":2018.639,"v":55},{"x":2018.643,"v":30},{"x":2018.647,"v":18},{"x":2018.652,"v":0},{"x":2018.656,"v":-3},{"x":2018.66,"v":12},{"x":2018.664,"v":30},{"x":2018.67,"v":55},{"x":2018.675,"v":88},{"x":2018.678,"v":165},{"x":2018.681,"v":134},{"x":2018.685,"v":128},{"x":2018.689,"v":140},{"x":2018.693,"v":49},{"x":2018.697,"v":24},{"x":2018.702,"v":18},{"x":2018.706,"v":46},{"x":2018.71,"v":18},{"x":2018.714,"v":-24},{"x":2018.718,"v":-34},{"x":2018.722,"v":-15},{"x":2018.727,"v":0},{"x":2018.731,"v":-6},{"x":2018.735,"v":-3},{"x":2018.74,"v":-9},{"x":2018.746,"v":-15},{"x":2018.752,"v":-15},{"x":2018.757,"v":-30},{"x":2018.761,"v":-37},{"x":2018.765,"v":-34},{"x":2018.771,"v":-40},{"x":2018.778,"v":-37},{"x":2018.785,"v":-40},{"x":2018.795,"v":-43},{"x":2018.806,"v":-42},{"x":2018.82,"v":-44},{"x":2018.86,"v":-45},{"x":2018.93,"v":-44},
{"x":2019.03,"v":-44},{"x":2019.1,"v":-45},{"x":2019.17,"v":-44},{"x":2019.24,"v":-45},{"x":2019.292,"v":-43},{"x":2019.306,"v":-40},{"x":2019.32,"v":-32},{"x":2019.327,"v":-40},{"x":2019.333,"v":-37},{"x":2019.347,"v":-34},{"x":2019.361,"v":-27},{"x":2019.368,"v":-32},{"x":2019.375,"v":-24},{"x":2019.382,"v":-34},{"x":2019.389,"v":18},{"x":2019.396,"v":12},{"x":2019.403,"v":-21},{"x":2019.407,"v":-24},{"x":2019.413,"v":6},{"x":2019.417,"v":24},{"x":2019.424,"v":37},{"x":2019.428,"v":52},{"x":2019.431,"v":95},{"x":2019.435,"v":55},{"x":2019.439,"v":12},{"x":2019.443,"v":55},{"x":2019.447,"v":43},{"x":2019.452,"v":79},{"x":2019.456,"v":49},{"x":2019.46,"v":30},{"x":2019.465,"v":24},{"x":2019.472,"v":49},{"x":2019.478,"v":55},{"x":2019.482,"v":140},{"x":2019.486,"v":220},{"x":2019.49,"v":195},{"x":2019.495,"v":159},{"x":2019.499,"v":152},{"x":2019.503,"v":134},{"x":2019.508,"v":101},{"x":2019.513,"v":73},{"x":2019.517,"v":70},{"x":2019.521,"v":146},{"x":2019.525,"v":284},{"x":2019.529,"v":213},{"x":2019.533,"v":189},{"x":2019.536,"v":262},{"x":2019.54,"v":207},{"x":2019.545,"v":168},{"x":2019.549,"v":146},{"x":2019.553,"v":177},{"x":2019.557,"v":226},{"x":2019.561,"v":165},{"x":2019.564,"v":122},{"x":2019.568,"v":116},{"x":2019.572,"v":67},{"x":2019.577,"v":122},{"x":2019.581,"v":165},{"x":2019.585,"v":201},{"x":2019.589,"v":134},{"x":2019.593,"v":91},{"x":2019.597,"v":49},{"x":2019.602,"v":143},{"x":2019.606,"v":116},{"x":2019.61,"v":24},{"x":2019.614,"v":61},{"x":2019.618,"v":98},{"x":2019.622,"v":85},{"x":2019.627,"v":55},{"x":2019.631,"v":91},{"x":2019.635,"v":73},{"x":2019.639,"v":55},{"x":2019.643,"v":30},{"x":2019.647,"v":18},{"x":2019.652,"v":0},{"x":2019.656,"v":-3},{"x":2019.66,"v":12},{"x":2019.664,"v":30},{"x":2019.67,"v":55},{"x":2019.675,"v":88},{"x":2019.678,"v":165},{"x":2019.681,"v":134},{"x":2019.685,"v":128},{"x":2019.689,"v":140},{"x":2019.693,"v":49},{"x":2019.697,"v":24},{"x":2019.702,"v":18},{"x":2019.706,"v":46},{"x":2019.71,"v":18},{"x":2019.714,"v":-24},{"x":2019.718,"v":-34},{"x":2019.722,"v":-15},{"x":2019.727,"v":0},{"x":2019.731,"v":-6},{"x":2019.735,"v":-3},{"x":2019.74,"v":-9},{"x":2019.746,"v":-15},{"x":2019.752,"v":-15},{"x":2019.757,"v":-30},{"x":2019.761,"v":-37},{"x":2019.765,"v":-34},{"x":2019.771,"v":-40},{"x":2019.778,"v":-37},{"x":2019.785,"v":-40},{"x":2019.795,"v":-43},{"x":2019.806,"v":-42},{"x":2019.82,"v":-44},{"x":2019.86,"v":-45},{"x":2019.93,"v":-44},
{"x":2020.03,"v":-44},{"x":2020.1,"v":-45},{"x":2020.17,"v":-44},{"x":2020.24,"v":-45},{"x":2020.292,"v":-43},{"x":2020.306,"v":-40},{"x":2020.32,"v":-32},{"x":2020.327,"v":-40},{"x":2020.333,"v":-37},{"x":2020.347,"v":-34},{"x":2020.361,"v":-27},{"x":2020.368,"v":-32},{"x":2020.375,"v":-24},{"x":2020.382,"v":-34},{"x":2020.389,"v":18},{"x":2020.396,"v":12},{"x":2020.403,"v":-21},{"x":2020.407,"v":-24},{"x":2020.413,"v":6},{"x":2020.417,"v":24},{"x":2020.424,"v":37},{"x":2020.428,"v":52},{"x":2020.431,"v":95},{"x":2020.435,"v":55},{"x":2020.439,"v":12},{"x":2020.443,"v":55},{"x":2020.447,"v":43},{"x":2020.452,"v":79},{"x":2020.456,"v":49},{"x":2020.46,"v":30},{"x":2020.465,"v":24},{"x":2020.472,"v":49},{"x":2020.478,"v":55},{"x":2020.482,"v":140},{"x":2020.486,"v":220},{"x":2020.49,"v":195},{"x":2020.495,"v":159},{"x":2020.499,"v":152},{"x":2020.503,"v":134},{"x":2020.508,"v":101},{"x":2020.513,"v":73},{"x":2020.517,"v":70},{"x":2020.521,"v":146},{"x":2020.525,"v":284},{"x":2020.529,"v":213},{"x":2020.533,"v":189},{"x":2020.536,"v":262},{"x":2020.54,"v":207},{"x":2020.545,"v":168},{"x":2020.549,"v":146},{"x":2020.553,"v":177},{"x":2020.557,"v":226},{"x":2020.561,"v":165},{"x":2020.564,"v":122},{"x":2020.568,"v":116},{"x":2020.572,"v":67},{"x":2020.577,"v":122},{"x":2020.581,"v":165},{"x":2020.585,"v":201},{"x":2020.589,"v":134},{"x":2020.593,"v":91},{"x":2020.597,"v":49},{"x":2020.602,"v":143},{"x":2020.606,"v":116},{"x":2020.61,"v":24},{"x":2020.614,"v":61},{"x":2020.618,"v":98},{"x":2020.622,"v":85},{"x":2020.627,"v":55},{"x":2020.631,"v":91},{"x":2020.635,"v":73},{"x":2020.639,"v":55},{"x":2020.643,"v":30},{"x":2020.647,"v":18},{"x":2020.652,"v":0},{"x":2020.656,"v":-3},{"x":2020.66,"v":12},{"x":2020.664,"v":30},{"x":2020.67,"v":55},{"x":2020.675,"v":88},{"x":2020.678,"v":165},{"x":2020.681,"v":134},{"x":2020.685,"v":128},{"x":2020.689,"v":140},{"x":2020.693,"v":49},{"x":2020.697,"v":24},{"x":2020.702,"v":18},{"x":2020.706,"v":46},{"x":2020.71,"v":18},{"x":2020.714,"v":-24},{"x":2020.718,"v":-34},{"x":2020.722,"v":-15},{"x":2020.727,"v":0},{"x":2020.731,"v":-6},{"x":2020.735,"v":-3},{"x":2020.74,"v":-9},{"x":2020.746,"v":-15},{"x":2020.752,"v":-15},{"x":2020.757,"v":-30},{"x":2020.761,"v":-37},{"x":2020.765,"v":-34},{"x":2020.771,"v":-40},{"x":2020.778,"v":-37},{"x":2020.785,"v":-40},{"x":2020.795,"v":-43},{"x":2020.806,"v":-42},{"x":2020.82,"v":-44},{"x":2020.86,"v":-45},{"x":2020.93,"v":-44},
{"x":2021.03,"v":-44},{"x":2021.1,"v":-45},{"x":2021.17,"v":-44},{"x":2021.24,"v":-45},{"x":2021.292,"v":-43},{"x":2021.306,"v":-40},{"x":2021.32,"v":-32},{"x":2021.327,"v":-40},{"x":2021.333,"v":-37},{"x":2021.347,"v":-34},{"x":2021.361,"v":-27},{"x":2021.368,"v":-32},{"x":2021.375,"v":-24},{"x":2021.382,"v":-34},{"x":2021.389,"v":18},{"x":2021.396,"v":12},{"x":2021.403,"v":-21},{"x":2021.407,"v":-24},{"x":2021.413,"v":6},{"x":2021.417,"v":24},{"x":2021.424,"v":37},{"x":2021.428,"v":52},{"x":2021.431,"v":95},{"x":2021.435,"v":55},{"x":2021.439,"v":12},{"x":2021.443,"v":55},{"x":2021.447,"v":43},{"x":2021.452,"v":79},{"x":2021.456,"v":49},{"x":2021.46,"v":30},{"x":2021.465,"v":24},{"x":2021.472,"v":49},{"x":2021.478,"v":55},{"x":2021.482,"v":140},{"x":2021.486,"v":220},{"x":2021.49,"v":195},{"x":2021.495,"v":159},{"x":2021.499,"v":152},{"x":2021.503,"v":134},{"x":2021.508,"v":101},{"x":2021.513,"v":73},{"x":2021.517,"v":70},{"x":2021.521,"v":146},{"x":2021.525,"v":284},{"x":2021.529,"v":213},{"x":2021.533,"v":189},{"x":2021.536,"v":262},{"x":2021.54,"v":207},{"x":2021.545,"v":168},{"x":2021.549,"v":146},{"x":2021.553,"v":177},{"x":2021.557,"v":226},{"x":2021.561,"v":165},{"x":2021.564,"v":122},{"x":2021.568,"v":116},{"x":2021.572,"v":67},{"x":2021.577,"v":122},{"x":2021.581,"v":165},{"x":2021.585,"v":201},{"x":2021.589,"v":134},{"x":2021.593,"v":91},{"x":2021.597,"v":49},{"x":2021.602,"v":143},{"x":2021.606,"v":116},{"x":2021.61,"v":24},{"x":2021.614,"v":61},{"x":2021.618,"v":98},{"x":2021.622,"v":85},{"x":2021.627,"v":55},{"x":2021.631,"v":91},{"x":2021.635,"v":73},{"x":2021.639,"v":55},{"x":2021.643,"v":30},{"x":2021.647,"v":18},{"x":2021.652,"v":0},{"x":2021.656,"v":-3},{"x":2021.66,"v":12},{"x":2021.664,"v":30},{"x":2021.67,"v":55},{"x":2021.675,"v":88},{"x":2021.678,"v":165},{"x":2021.681,"v":134},{"x":2021.685,"v":128},{"x":2021.689,"v":140},{"x":2021.693,"v":49},{"x":2021.697,"v":24},{"x":2021.702,"v":18},{"x":2021.706,"v":46},{"x":2021.71,"v":18},{"x":2021.714,"v":-24},{"x":2021.718,"v":-34},{"x":2021.722,"v":-15},{"x":2021.727,"v":0},{"x":2021.731,"v":-6},{"x":2021.735,"v":-3},{"x":2021.74,"v":-9},{"x":2021.746,"v":-15},{"x":2021.752,"v":-15},{"x":2021.757,"v":-30},{"x":2021.761,"v":-37},{"x":2021.765,"v":-34},{"x":2021.771,"v":-40},{"x":2021.778,"v":-37},{"x":2021.785,"v":-40},{"x":2021.795,"v":-43},{"x":2021.806,"v":-42},{"x":2021.82,"v":-44},{"x":2021.86,"v":-45},{"x":2021.93,"v":-44},
{"x":2022.03,"v":-44},{"x":2022.1,"v":-45},{"x":2022.17,"v":-44},{"x":2022.24,"v":-45},{"x":2022.292,"v":-43},{"x":2022.306,"v":-40},{"x":2022.32,"v":-32},{"x":2022.327,"v":-40},{"x":2022.333,"v":-37},{"x":2022.347,"v":-34},{"x":2022.361,"v":-27},{"x":2022.368,"v":-32},{"x":2022.375,"v":-24},{"x":2022.382,"v":-34},{"x":2022.389,"v":18},{"x":2022.396,"v":12},{"x":2022.403,"v":-21},{"x":2022.407,"v":-24},{"x":2022.413,"v":6},{"x":2022.417,"v":24},{"x":2022.424,"v":37},{"x":2022.428,"v":52},{"x":2022.431,"v":95},{"x":2022.435,"v":55},{"x":2022.439,"v":12},{"x":2022.443,"v":55},{"x":2022.447,"v":43},{"x":2022.452,"v":79},{"x":2022.456,"v":49},{"x":2022.46,"v":30},{"x":2022.465,"v":24},{"x":2022.472,"v":49},{"x":2022.478,"v":55},{"x":2022.482,"v":140},{"x":2022.486,"v":220},{"x":2022.49,"v":195},{"x":2022.495,"v":159},{"x":2022.499,"v":152},{"x":2022.503,"v":134},{"x":2022.508,"v":101},{"x":2022.513,"v":73},{"x":2022.517,"v":70},{"x":2022.521,"v":146},{"x":2022.525,"v":284},{"x":2022.529,"v":213},{"x":2022.533,"v":189},{"x":2022.536,"v":262},{"x":2022.54,"v":207},{"x":2022.545,"v":168},{"x":2022.549,"v":146},{"x":2022.553,"v":177},{"x":2022.557,"v":226},{"x":2022.561,"v":165},{"x":2022.564,"v":122},{"x":2022.568,"v":116},{"x":2022.572,"v":67},{"x":2022.577,"v":122},{"x":2022.581,"v":165},{"x":2022.585,"v":201},{"x":2022.589,"v":134},{"x":2022.593,"v":91},{"x":2022.597,"v":49},{"x":2022.602,"v":143},{"x":2022.606,"v":116},{"x":2022.61,"v":24},{"x":2022.614,"v":61},{"x":2022.618,"v":98},{"x":2022.622,"v":85},{"x":2022.627,"v":55},{"x":2022.631,"v":91},{"x":2022.635,"v":73},{"x":2022.639,"v":55},{"x":2022.643,"v":30},{"x":2022.647,"v":18},{"x":2022.652,"v":0},{"x":2022.656,"v":-3},{"x":2022.66,"v":12},{"x":2022.664,"v":30},{"x":2022.67,"v":55},{"x":2022.675,"v":88},{"x":2022.678,"v":165},{"x":2022.681,"v":134},{"x":2022.685,"v":128},{"x":2022.689,"v":140},{"x":2022.693,"v":49},{"x":2022.697,"v":24},{"x":2022.702,"v":18},{"x":2022.706,"v":46},{"x":2022.71,"v":18},{"x":2022.714,"v":-24},{"x":2022.718,"v":-34},{"x":2022.722,"v":-15},{"x":2022.727,"v":0},{"x":2022.731,"v":-6},{"x":2022.735,"v":-3},{"x":2022.74,"v":-9},{"x":2022.746,"v":-15},{"x":2022.752,"v":-15},{"x":2022.757,"v":-30},{"x":2022.761,"v":-37},{"x":2022.765,"v":-34},{"x":2022.771,"v":-40},{"x":2022.778,"v":-37},{"x":2022.785,"v":-40},{"x":2022.795,"v":-43},{"x":2022.806,"v":-42},{"x":2022.82,"v":-44},{"x":2022.86,"v":-45},{"x":2022.93,"v":-44},
{"x":2023.03,"v":-44},{"x":2023.1,"v":-45},{"x":2023.17,"v":-44},{"x":2023.24,"v":-45},{"x":2023.292,"v":-43},{"x":2023.306,"v":-40},{"x":2023.32,"v":-32},{"x":2023.327,"v":-40},{"x":2023.333,"v":-37},{"x":2023.347,"v":-34},{"x":2023.361,"v":-27},{"x":2023.368,"v":-32},{"x":2023.375,"v":-24},{"x":2023.382,"v":-34},{"x":2023.389,"v":18},{"x":2023.396,"v":12},{"x":2023.403,"v":-21},{"x":2023.407,"v":-24},{"x":2023.413,"v":6},{"x":2023.417,"v":24},{"x":2023.424,"v":37},{"x":2023.428,"v":52},{"x":2023.431,"v":95},{"x":2023.435,"v":55},{"x":2023.439,"v":12},{"x":2023.443,"v":55},{"x":2023.447,"v":43},{"x":2023.452,"v":79},{"x":2023.456,"v":49},{"x":2023.46,"v":30},{"x":2023.465,"v":24},{"x":2023.472,"v":49},{"x":2023.478,"v":55},{"x":2023.482,"v":140},{"x":2023.486,"v":220},{"x":2023.49,"v":195},{"x":2023.495,"v":159},{"x":2023.499,"v":152},{"x":2023.503,"v":134},{"x":2023.508,"v":101},{"x":2023.513,"v":73},{"x":2023.517,"v":70},{"x":2023.521,"v":146},{"x":2023.525,"v":284},{"x":2023.529,"v":213},{"x":2023.533,"v":189},{"x":2023.536,"v":262},{"x":2023.54,"v":207},{"x":2023.545,"v":168},{"x":2023.549,"v":146},{"x":2023.553,"v":177},{"x":2023.557,"v":226},{"x":2023.561,"v":165},{"x":2023.564,"v":122},{"x":2023.568,"v":116},{"x":2023.572,"v":67},{"x":2023.577,"v":122},{"x":2023.581,"v":165},{"x":2023.585,"v":201},{"x":2023.589,"v":134},{"x":2023.593,"v":91},{"x":2023.597,"v":49},{"x":2023.602,"v":143},{"x":2023.606,"v":116},{"x":2023.61,"v":24},{"x":2023.614,"v":61},{"x":2023.618,"v":98},{"x":2023.622,"v":85},{"x":2023.627,"v":55},{"x":2023.631,"v":91},{"x":2023.635,"v":73},{"x":2023.639,"v":55},{"x":2023.643,"v":30},{"x":2023.647,"v":18},{"x":2023.652,"v":0},{"x":2023.656,"v":-3},{"x":2023.66,"v":12},{"x":2023.664,"v":30},{"x":2023.67,"v":55},{"x":2023.675,"v":88},{"x":2023.678,"v":165},{"x":2023.681,"v":134},{"x":2023.685,"v":128},{"x":2023.689,"v":140},{"x":2023.693,"v":49},{"x":2023.697,"v":24},{"x":2023.702,"v":18},{"x":2023.706,"v":46},{"x":2023.71,"v":18},{"x":2023.714,"v":-24},{"x":2023.718,"v":-34},{"x":2023.722,"v":-15},{"x":2023.727,"v":0},{"x":2023.731,"v":-6},{"x":2023.735,"v":-3},{"x":2023.74,"v":-9},{"x":2023.746,"v":-15},{"x":2023.752,"v":-15},{"x":2023.757,"v":-30},{"x":2023.761,"v":-37},{"x":2023.765,"v":-34},{"x":2023.771,"v":-40},{"x":2023.778,"v":-37},{"x":2023.785,"v":-40},{"x":2023.795,"v":-43},{"x":2023.806,"v":-42},{"x":2023.82,"v":-44},{"x":2023.86,"v":-45},{"x":2023.93,"v":-44},
{"x":2024.03,"v":-44},{"x":2024.1,"v":-45},{"x":2024.153,"v":-44},{"x":2024.204,"v":-45}
],
"t":[
{"x":2017.028,"v":55.25},{"x":2017.19,"v":55.25},{"x":2017.333,"v":54.99},{"x":2017.46,"v":54.53},{"x":2017.615,"v":54.18},{"x":2017.785,"v":53.64},{"x":2017.95,"v":49.45},{"x":2018.087,"v":46.69},{"x":2018.257,"v":46.15},{"x":2018.54,"v":45.88},{"x":2018.693,"v":45.8},{"x":2018.836,"v":46.34},{"x":2018.975,"v":47.31},{"x":2019.113,"v":48.12},{"x":2019.257,"v":47.14},{"x":2019.411,"v":45.53},{"x":2019.59,"v":44.63},{"x":2019.77,"v":44.36},{"x":2019.899,"v":44.72},{"x":2020.027,"v":44.0},{"x":2020.19,"v":43.83},{"x":2020.335,"v":44.46},{"x":2020.489,"v":44.72},{"x":2020.642,"v":44.72},{"x":2020.797,"v":45.7},{"x":2020.95,"v":49.72},{"x":2021.094,"v":53.83},{"x":2021.248,"v":54.27},{"x":2021.402,"v":52.93},{"x":2021.566,"v":51.95},{"x":2021.705,"v":51.06},{"x":2021.848,"v":48.47},{"x":2022.002,"v":43.74},{"x":2022.156,"v":42.22},{"x":2022.31,"v":44.54},{"x":2022.464,"v":46.06},{"x":2022.618,"v":46.6},{"x":2022.772,"v":47.49},{"x":2022.926,"v":49.54},{"x":2023.065,"v":51.06},{"x":2023.208,"v":50.97},{"x":2023.362,"v":50.61},{"x":2023.516,"v":51.15},{"x":2023.67,"v":51.33},{"x":2023.824,"v":51.51},{"x":2023.978,"v":51.68},{"x":2024.132,"v":51.77},{"x":2024.204,"v":51.8}
]
},
"spacing":0,
"vconcat":[
{"spacing":0,"bounds":"flush","vconcat":[
{"width":1887.5,"height":30,"view":{"fill":"#D9D9D9","stroke":null},"data":{"values":[{"t":"Data"}]},"mark":{"type":"text","font":"Liberation Sans","fontSize":15,"color":"#1A1A1A","dx":3.6,"dy":2},"encoding":{"text":{"field":"t"}}},
{"width":1887.5,"height":199.4,"view":{"fill":"#EBEBEB","stroke":null},"data":{"name":"d"},
"mark":{"type":"line","color":"#000000","strokeWidth":1.3,"strokeJoin":"round","clip":true},
"encoding":{
"x":{"field":"x","type":"quantitative","scale":{"domain":[2016.6667,2024.5333],"nice":false,"zero":false},"axis":{"values":[2017,2018,2019,2020,2021,2022,2023,2024],"labels":false,"ticks":false,"gridWidth":{"condition":{"test":"datum.value % 2 == 0","value":1.7},"value":0.85}}},
"y":{"field":"v","type":"quantitative","scale":{"domain":[-57.25,1202.25],"nice":false,"zero":false},"axis":{"values":[0,150,300,450,600,750,900,1050],"labelExpr":"datum.value % 300 == 0 ? datum.label : ''","tickOpacity":{"condition":{"test":"datum.value % 300 == 0","value":1},"value":0},"gridWidth":{"condition":{"test":"datum.value % 300 == 0","value":1.7},"value":0.85}}}}},
{"width":1887.5,"height":9.6,"data":{"values":[]},"mark":"point","encoding":{}}
]},
{"spacing":0,"bounds":"flush","vconcat":[
{"width":1887.5,"height":30,"view":{"fill":"#D9D9D9","stroke":null},"data":{"values":[{"t":"remainder"}]},"mark":{"type":"text","font":"Liberation Sans","fontSize":15,"color":"#1A1A1A","dx":3.6,"dy":2},"encoding":{"text":{"field":"t"}}},
{"width":1887.5,"height":199.4,"view":{"fill":"#EBEBEB","stroke":null},"data":{"name":"r"},
"mark":{"type":"line","color":"#000000","strokeWidth":1.3,"strokeJoin":"round","clip":true},
"encoding":{
"x":{"field":"x","type":"quantitative","scale":{"domain":[2016.6667,2024.5333],"nice":false,"zero":false},"axis":{"values":[2017,2018,2019,2020,2021,2022,2023,2024],"labels":false,"ticks":false,"gridWidth":{"condition":{"test":"datum.value % 2 == 0","value":1.7},"value":0.85}}},
"y":{"field":"v","type":"quantitative","scale":{"domain":[-310.6,928],"nice":false,"zero":false},"axis":{"values":[-300,-150,0,150,300,450,600,750,900],"labelExpr":"datum.value % 300 == 0 ? datum.label : ''","tickOpacity":{"condition":{"test":"datum.value % 300 == 0","value":1},"value":0},"gridWidth":{"condition":{"test":"datum.value % 300 == 0","value":1.7},"value":0.85}}}}},
{"width":1887.5,"height":9.6,"data":{"values":[]},"mark":"point","encoding":{}}
]},
{"spacing":0,"bounds":"flush","vconcat":[
{"width":1887.5,"height":30,"view":{"fill":"#D9D9D9","stroke":null},"data":{"values":[{"t":"seasonal"}]},"mark":{"type":"text","font":"Liberation Sans","fontSize":15,"color":"#1A1A1A","dx":3.6,"dy":2},"encoding":{"text":{"field":"t"}}},
{"width":1887.5,"height":199.4,"view":{"fill":"#EBEBEB","stroke":null},"data":{"name":"s"},
"mark":{"type":"line","color":"#000000","strokeWidth":1.3,"strokeJoin":"round","clip":true},
"encoding":{
"x":{"field":"x","type":"quantitative","scale":{"domain":[2016.6667,2024.5333],"nice":false,"zero":false},"axis":{"values":[2017,2018,2019,2020,2021,2022,2023,2024],"labels":false,"ticks":false,"gridWidth":{"condition":{"test":"datum.value % 2 == 0","value":1.7},"value":0.85}}},
"y":{"field":"v","type":"quantitative","scale":{"domain":[-61.4,300.4],"nice":false,"zero":false},"axis":{"values":[-50,0,50,100,150,200,250,300],"labelExpr":"datum.value % 100 == 0 ? datum.label : ''","tickOpacity":{"condition":{"test":"datum.value % 100 == 0","value":1},"value":0},"gridWidth":{"condition":{"test":"datum.value % 100 == 0","value":1.7},"value":0.85}}}}},
{"width":1887.5,"height":9.6,"data":{"values":[]},"mark":"point","encoding":{}}
]},
{"spacing":0,"bounds":"flush","vconcat":[
{"width":1887.5,"height":30,"view":{"fill":"#D9D9D9","stroke":null},"data":{"values":[{"t":"trend"}]},"mark":{"type":"text","font":"Liberation Sans","fontSize":15,"color":"#1A1A1A","dx":3.6,"dy":2},"encoding":{"text":{"field":"t"}}},
{"width":1887.5,"height":199.4,"view":{"fill":"#EBEBEB","stroke":null},"data":{"name":"t"},
"mark":{"type":"line","color":"#000000","strokeWidth":1.3,"strokeJoin":"round","clip":true},
"encoding":{
"x":{"field":"x","type":"quantitative","scale":{"domain":[2016.6667,2024.5333],"nice":false,"zero":false},"axis":{"values":[2017,2018,2019,2020,2021,2022,2023,2024],"labelExpr":"datum.value % 2 == 0 ? format(datum.value, 'd') : ''","tickOpacity":{"condition":{"test":"datum.value % 2 == 0","value":1},"value":0},"gridWidth":{"condition":{"test":"datum.value % 2 == 0","value":1.7},"value":0.85}}},
"y":{"field":"v","type":"quantitative","scale":{"domain":[41.6,56.05],"nice":false,"zero":false},"axis":{"values":[42,44,46,48,50,52,54,56],"labelExpr":"datum.value % 4 == 0 ? datum.label : ''","tickOpacity":{"condition":{"test":"datum.value % 4 == 0","value":1},"value":0},"gridWidth":{"condition":{"test":"datum.value % 4 == 0","value":1.7},"value":0.85}}}}}
]}
]
}
